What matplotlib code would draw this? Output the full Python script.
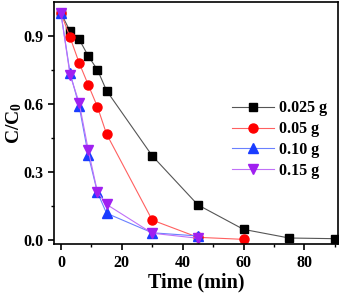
#!/usr/bin/env python3

import matplotlib
matplotlib.use("Agg")
import matplotlib.pyplot as plt
from matplotlib.ticker import MultipleLocator

# sampling times (min) and C/C0 for each catalyst dose
t_025 = [0, 3, 6, 9, 12, 15, 30, 45, 60, 75, 90]
c_025 = [1.0, 0.92, 0.884, 0.81, 0.75, 0.658, 0.371, 0.155, 0.047, 0.009, 0.006]

t_05 = [0, 3, 6, 9, 12, 15, 30, 45, 60]
c_05 = [1.0, 0.893, 0.78, 0.683, 0.587, 0.467, 0.088, 0.012, 0.003]

t_10 = [0, 3, 6, 9, 12, 15, 30, 45]
c_10 = [1.0, 0.737, 0.59, 0.374, 0.21, 0.118, 0.032, 0.018]

t_15 = [0, 3, 6, 9, 12, 15, 30, 45]
c_15 = [1.0, 0.728, 0.605, 0.396, 0.212, 0.157, 0.03, 0.008]

labels = ["0.025 g", "0.05 g", "0.10 g", "0.15 g"]


def main():
    plt.rcParams["font.family"] = ["Liberation Serif", "DejaVu Serif"]
    plt.rcParams["font.weight"] = "bold"
    plt.rcParams["mathtext.fontset"] = "custom"
    plt.rcParams["mathtext.rm"] = "Liberation Serif:bold"
    plt.rcParams["mathtext.it"] = "Liberation Serif:bold"

    fig = plt.figure(figsize=(3.43, 2.93), dpi=100)
    ax = fig.add_axes([0.158, 0.166, 0.827, 0.827])

    series = [
        (t_025, c_025, "black", "#555555", "s", 5.5),
        (t_05, c_05, "#ff0000", "#ff6060", "o", 6.5),
        (t_10, c_10, "#1a3cff", "#6a80ff", "^", 6.5),
        (t_15, c_15, "#a020f0", "#c070f8", "v", 6.5),
    ]
    for (t, c, col, lcol, mk, ms), lab in zip(series, labels):
        ax.plot(t, c, color=lcol, lw=0.8, marker=mk, ms=ms,
                mfc=col, mec=col, label=lab)

    ax.set_xlim(-2.2, 91)
    ax.set_ylim(-0.019, 1.048)
    ax.xaxis.set_major_locator(MultipleLocator(20))
    ax.xaxis.set_minor_locator(MultipleLocator(10))
    ax.yaxis.set_major_locator(MultipleLocator(0.3))
    ax.yaxis.set_minor_locator(MultipleLocator(0.15))
    ax.yaxis.set_major_formatter(plt.FuncFormatter(lambda v, p: f"{v:.1f}"))

    ax.tick_params(which="major", direction="out", length=4.5, width=1.2,
                   labelsize=11.5, pad=3)
    ax.tick_params(which="minor", direction="out", length=2.5, width=1.0)
    for s in ax.spines.values():
        s.set_linewidth(1.2)

    ax.set_xlabel("Time (min)", fontsize=14.5, fontweight="bold", labelpad=1)
    ax.set_ylabel("C/C$_0$", fontsize=14, fontweight="bold", labelpad=0)

    ax.legend(loc="upper right", bbox_to_anchor=(1.0, 0.64), frameon=False,
              handlelength=2.6, labelspacing=0.3,
              handletextpad=0.3, borderaxespad=0.3,
              prop={"weight": "bold", "size": 11.5})

    fig.savefig("out.png", dpi=100)


if __name__ == "__main__":
    main()
